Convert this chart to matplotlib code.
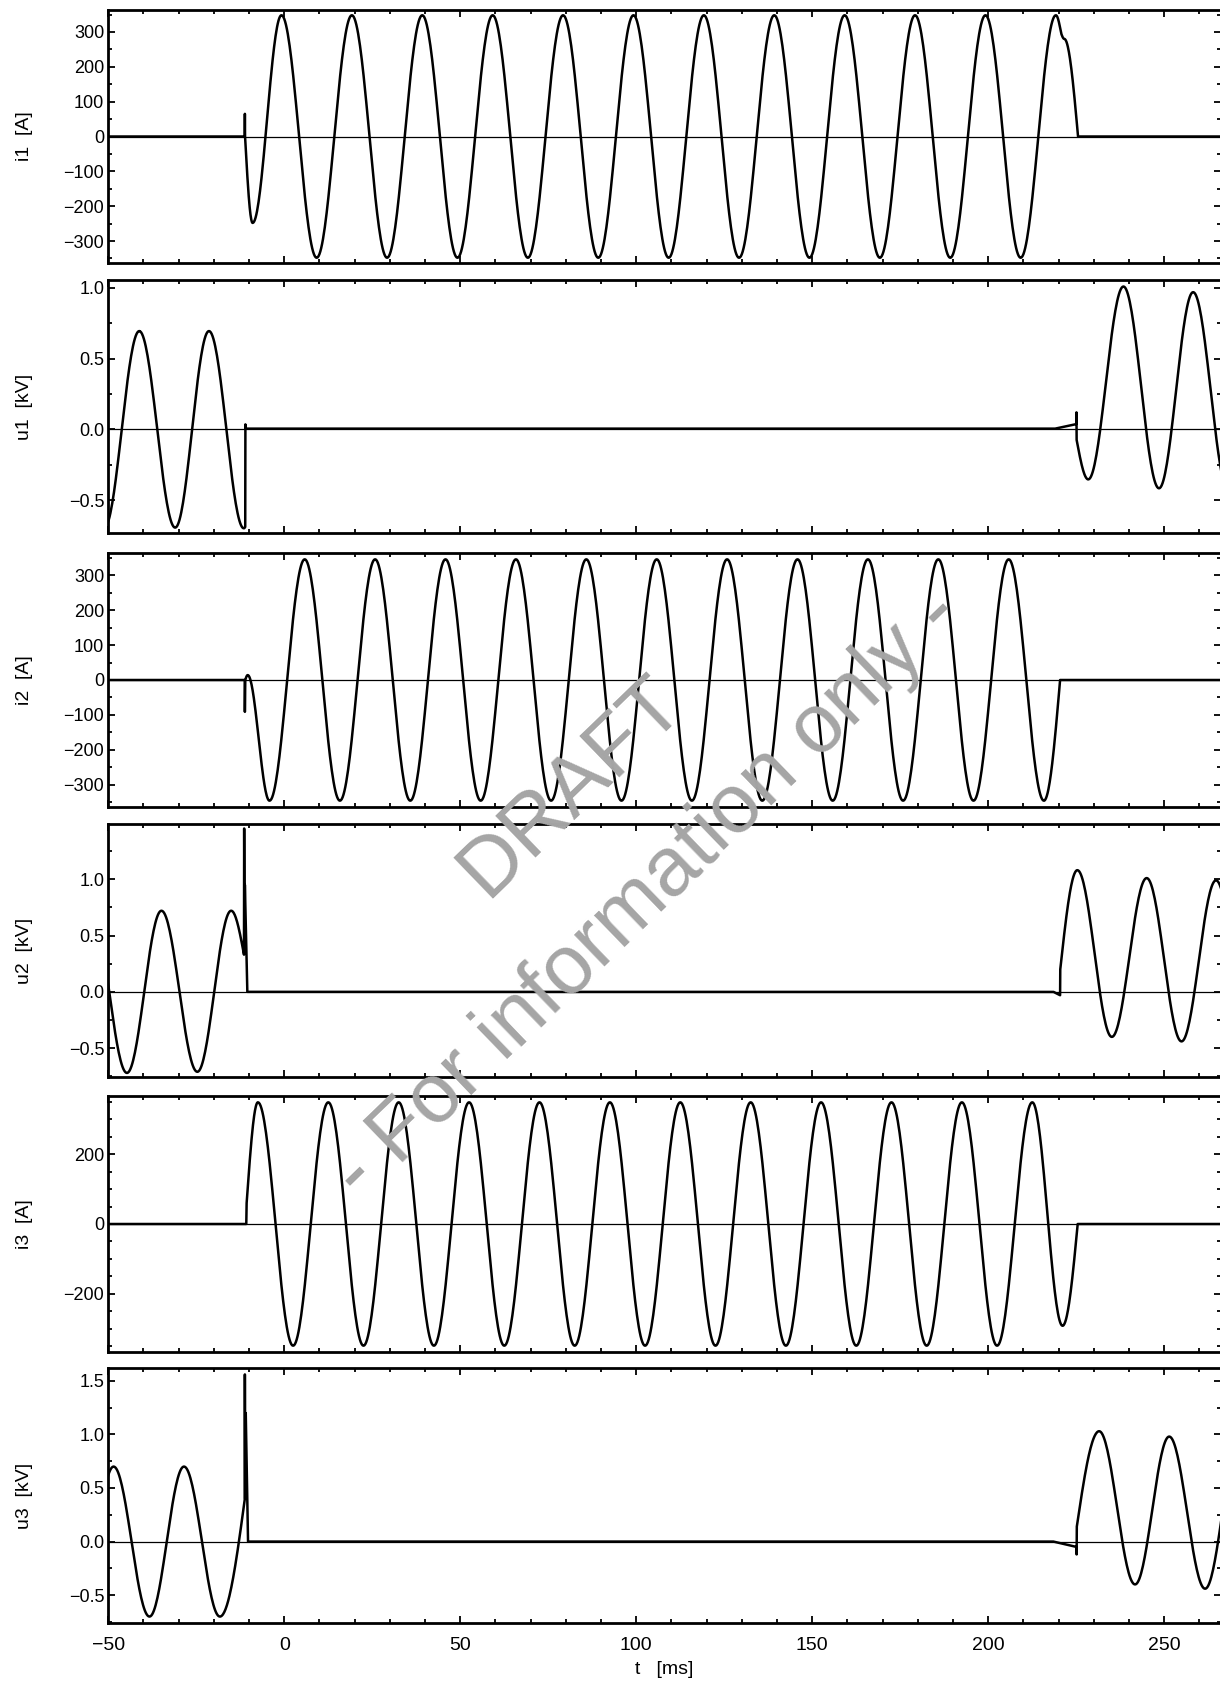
import numpy as np
import matplotlib
matplotlib.use("Agg")
import matplotlib.pyplot as plt
from matplotlib.ticker import MultipleLocator, FuncFormatter

plt.rcParams['font.family'] = ['Liberation Sans', 'DejaVu Sans']

# knots: time [ms], value, kind ('p' = extremum, 'z' = steep point)
i1_t = [-50, -11.25, -11.2, -11.15, -9.0,
        -0.8, 9.2, 19.2, 29.2, 39.2, 49.2, 59.2, 69.2, 79.2, 89.2, 99.2, 109.2,
        119.2, 129.2, 139.2, 149.2, 159.2, 169.2, 179.2, 189.2, 199.2, 209.2, 219.2,
        220.7, 221.6, 225.5, 270]
i1_v = [0, 0, 65, 0, -248,
        348, -348, 348, -348, 348, -348, 348, -348, 348, -348, 348, -348,
        348, -348, 348, -348, 348, -348, 348, -348, 348, -348, 348,
        296, 280, 0, 0]
i1_k = "zzzzp" + "p" * 23 + "zpzz"

u1_t = [-51.2, -41.2, -31.0, -21.4, -11.5, -11.1, -11.05, -10.9,
        219.0, 225.0, 225.05, 225.1, 228.4, 238.4, 248.5, 258.2, 268.2]
u1_v = [-0.70, 0.695, -0.695, 0.695, -0.70, -0.69, 0.035, 0.005,
        0.005, 0.037, 0.12, -0.075, -0.354, 1.01, -0.417, 0.97, -0.43]
u1_k = "ppppp" + "zzz" + "zzzz" + "ppppp"

i2_t = [-50, -11.25, -11.2, -11.1, -10.4,
        -4.2, 5.8, 15.8, 25.8, 35.8, 45.8, 55.8, 65.8, 75.8, 85.8, 95.8, 105.8,
        115.8, 125.8, 135.8, 145.8, 155.8, 165.8, 175.8, 185.8, 195.8, 205.8, 215.8,
        220.4, 270]
i2_v = [0, 0, -91, 0, 14,
        -345, 345, -345, 345, -345, 345, -345, 345, -345, 345, -345, 345,
        -345, 345, -345, 345, -345, 345, -345, 345, -345, 345, -345,
        0, 0]
i2_k = "zzzzp" + "p" * 23 + "zz"

u2_t = [-54.8, -44.7, -34.9, -24.7, -15.1, -11.45, -11.4, -11.3, -11.2, -10.5,
        218.5, 220.4, 220.45, 225.3, 235.1, 245.0, 254.9, 264.7, 274.6]
u2_v = [0.72, -0.72, 0.72, -0.71, 0.72, 0.33, 1.45, 0.5, 0.95, 0.0,
        0.0, -0.03, 0.2, 1.08, -0.40, 1.01, -0.44, 0.99, -0.44]
u2_k = "ppppp" + "zzzzz" + "zzz" + "pppppp"

i3_t = [-50, -10.8, -10.7,
        -7.5, 2.5, 12.5, 22.5, 32.5, 42.5, 52.5, 62.5, 72.5, 82.5, 92.5, 102.5,
        112.5, 122.5, 132.5, 142.5, 152.5, 162.5, 172.5, 182.5, 192.5, 202.5, 212.5,
        221.1, 225.4, 270]
i3_v = [0, 0, 60,
        348, -348, 348, -348, 348, -348, 348, -348, 348, -348, 348, -348,
        348, -348, 348, -348, 348, -348, 348, -348, 348, -348, 348,
        -291, 0, 0]
i3_k = "zzz" + "p" * 23 + "pzz"

u3_t = [-58.3, -48.5, -38.3, -28.5, -18.3, -11.25, -11.2, -11.1, -10.95, -10.3,
        218.5, 225.05, 225.1, 225.15, 231.5, 241.7, 251.4, 261.6, 271.4]
u3_v = [-0.70, 0.70, -0.70, 0.70, -0.70, 0.39, 1.56, 0.4, 1.2, 0.0,
        0.0, -0.05, -0.12, 0.14, 1.03, -0.40, 0.98, -0.44, 0.98]
u3_k = "ppppp" + "zzzzz" + "zzzz" + "ppppp"

labels = ["i1  [A]", "u1  [kV]", "i2  [A]", "u2  [kV]", "i3  [A]", "u3  [kV]"]
ylims = [(-363, 363), (-0.733, 1.056), (-363, 363), (-0.756, 1.49), (-366, 366), (-0.76, 1.62)]
ymajor = [100, 0.5, 100, 0.5, 200, 0.5]
yminor = [50, 0.25, 50, 0.25, 50, 0.25]


def trace(tk, vk, kk, n=40):
    xs = []
    ys = []
    for j in range(len(tk) - 1):
        s = np.linspace(0, 1, n)
        a, b = vk[j], vk[j + 1]
        if kk[j] == 'p' and kk[j + 1] == 'p':
            f = (1 - np.cos(np.pi * s)) / 2
        elif kk[j] == 'z' and kk[j + 1] == 'p':
            f = np.sin(np.pi * s / 2)
        elif kk[j] == 'p' and kk[j + 1] == 'z':
            f = 1 - np.cos(np.pi * s / 2)
        else:
            f = s
        xs.append(tk[j] + (tk[j + 1] - tk[j]) * s)
        ys.append(a + (b - a) * f)
    return np.concatenate(xs), np.concatenate(ys)


def kv_fmt(x, pos):
    return ("%.1f" % x).replace("-", "\u2212")


traces = [(i1_t, i1_v, i1_k), (u1_t, u1_v, u1_k), (i2_t, i2_v, i2_k),
          (u2_t, u2_v, u2_k), (i3_t, i3_v, i3_k), (u3_t, u3_v, u3_k)]

W, H = 1220, 1688
fig = plt.figure(figsize=(W / 100, H / 100), dpi=100)

# panel top / bottom in pixels from the top of the picture
tops = [10, 280, 553, 824, 1096, 1368]
bots = [263, 533, 807, 1077, 1352, 1623]
left, right = 108.3, 1220.6

axes = []
for k in range(6):
    ax = fig.add_axes([left / W, 1 - bots[k] / H, (right - left) / W, (bots[k] - tops[k]) / H])
    t, v = trace(*traces[k])
    ax.plot(t, v, color="black", lw=1.8, solid_joinstyle="round")
    ax.axhline(0, color="black", lw=0.9)
    ax.set_xlim(-50, 266)
    ax.set_ylim(*ylims[k])
    ax.xaxis.set_major_locator(MultipleLocator(50))
    ax.xaxis.set_minor_locator(MultipleLocator(10))
    ax.yaxis.set_major_locator(MultipleLocator(ymajor[k]))
    ax.yaxis.set_minor_locator(MultipleLocator(yminor[k]))
    ax.tick_params(which="both", direction="in", top=True, right=True, width=1.3)
    ax.tick_params(which="major", length=5)
    ax.tick_params(which="minor", length=3)
    ax.tick_params(axis="y", labelsize=13, pad=3)
    ax.tick_params(axis="x", labelsize=14, pad=10)
    for sp in ax.spines.values():
        sp.set_linewidth(2)
    if k % 2 == 1:
        ax.yaxis.set_major_formatter(FuncFormatter(kv_fmt))
    ax.set_ylabel(labels[k], fontsize=14)
    ax.yaxis.set_label_coords(-0.068, 0.5)
    if k < 5:
        ax.tick_params(axis="x", labelbottom=False)
    axes.append(ax)

axes[5].set_xlabel("t   [ms]", fontsize=14, labelpad=5)

fig.text(0.468, 0.534, "DRAFT", rotation=44, fontsize=60, color="#a5a5a5",
         ha="center", va="center", rotation_mode="anchor", zorder=10)
fig.text(0.531, 0.470, "- For information only -", rotation=44, fontsize=60,
         color="#a5a5a5", ha="center", va="center", rotation_mode="anchor", zorder=10)

fig.savefig("out.png", dpi=100)
